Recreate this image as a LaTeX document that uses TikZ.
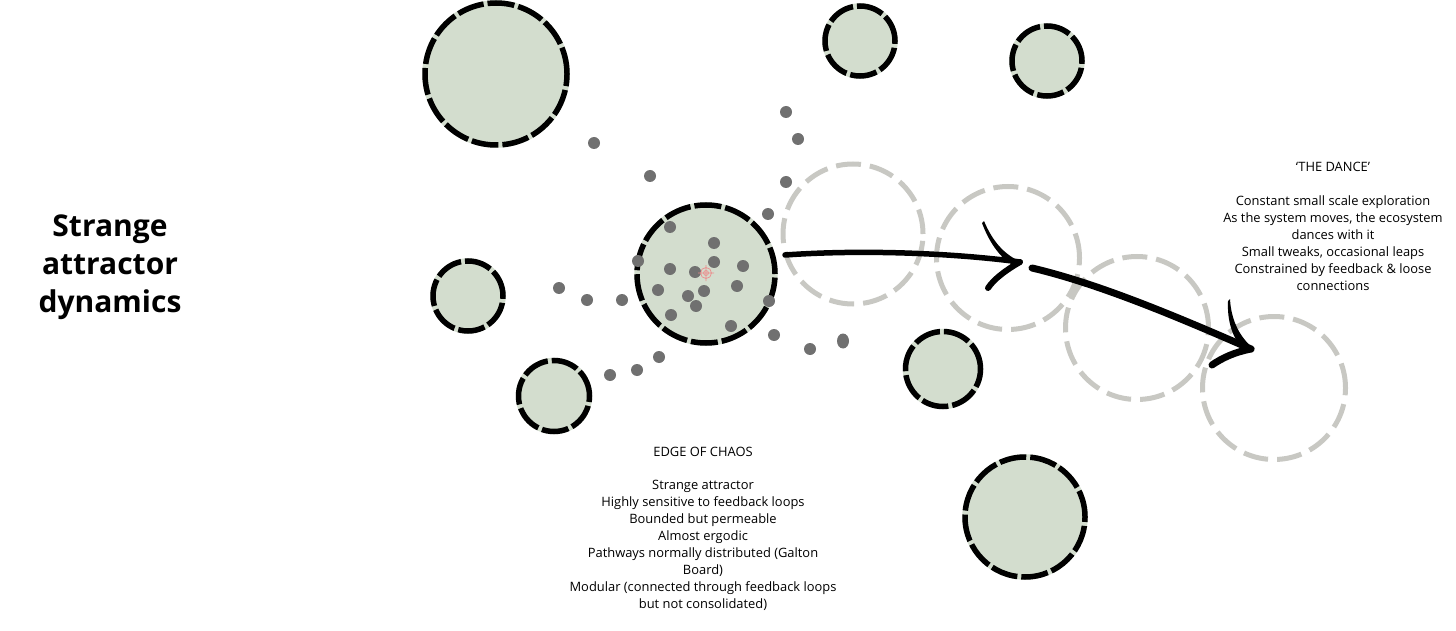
\documentclass[tikz,border=0pt]{standalone}
\usepackage{fontspec}
\setmainfont{Open Sans}
\definecolor{sage}{RGB}{211,221,206}
\definecolor{dotgray}{RGB}{112,112,112}
\definecolor{ghostgray}{RGB}{200,200,195}
\definecolor{markred}{RGB}{236,140,140}
\begin{document}
\begin{tikzpicture}[x=1pt,y=-1pt,
  pod/.style={circle,draw=black,fill=sage,line width=5.5pt,dash pattern=on 27pt off 4pt,inner sep=0pt,outer sep=0pt,
    preaction={draw=sage,solid,line width=5.5pt}},
  ghost/.style={circle,draw=ghostgray,line width=5pt,dash pattern=on 25pt off 9pt,inner sep=0pt,outer sep=0pt},
  txt/.style={font=\fontsize{12.9}{16.9}\selectfont,align=center,inner sep=0pt},
  brush/.style={line width=6pt,line cap=round,line join=round,draw=black},
  barb/.style={fill=black}]
\useasboundingbox (0,0) rectangle (1456,631);
% ghost (future) positions
\node[ghost,minimum size=140] (g1) at (853,234) {};
\node[ghost,minimum size=143] (g2) at (1008,258) {};
\node[ghost,minimum size=143] (g3) at (1137,328) {};
\node[ghost,minimum size=143] (g4) at (1274,388) {};
% ecosystem pods
\node[pod,minimum size=142] (tl) at (496,74) {};
\node[pod,minimum size=70] (tm) at (860,41) {};
\node[pod,minimum size=70] (tr) at (1047,61) {};
\node[pod,minimum size=70] (lf) at (468,296) {};
\node[pod,minimum size=71] (bl) at (554,396) {};
\node[pod,minimum size=138] (core) at (706,274) {};
\node[pod,minimum size=75] (mr) at (943,369) {};
\node[pod,minimum size=120] (br) at (1025,517) {};
% dots
\foreach \p in {(594,143),(650,176),(786,112),(798,139),(786,182),(768,214),
  (670,227),(714,243),(638,261),(714,262),(670,269),(695,272),(743,266),
  (658,290),(704,291),(737,286),(688,296),(696,306),(671,315),(769,301),(731,326),
  (559,288),(587,300),(622,300),(774,335),(810,349),(659,357),(637,370),(610,375)}
  \fill[dotgray] \p circle (6);
\fill[dotgray] (843,341) ellipse (6 and 7.5);
% centre marker
\draw[markred,line width=0.7pt] (706,273) circle (5.5) (706,273) circle (2.5)
  (698,273) -- (714,273) (706,265) -- (706,281);
% arrows
\coordinate (a1s) at (785,255);
\coordinate (a1t) at (1020,262);
\coordinate (a2s) at (1032,268);
\coordinate (a2t) at (1251,349);
\draw[brush,line width=5.5pt] (a1s) .. controls (870,249) and (960,254) .. (a1t);
\fill[barb] (984,221) .. controls (992,240) and (1003,254) .. (1021,262) -- (1013,265) .. controls (1000,258) and (989,242) .. (982,223) -- cycle;
\draw[brush] (a1t) .. controls (1006,270) and (994,279) .. (988,288);
\draw[brush,line width=7pt] (a2s) .. controls (1100,284) and (1180,318) .. (a2t);
\fill[barb] (1230,299) .. controls (1231,318) and (1238,336) .. (1254,349) -- (1245,351) .. controls (1233,340) and (1227,322) .. (1228,301) -- cycle;
\draw[brush,line width=7pt] (a2t) .. controls (1235,352) and (1222,358) .. (1212,365);
% texts
\node[font=\bfseries\fontsize{30}{38}\selectfont,align=center,inner sep=0pt] (title) at (110,267) {Strange\\attractor\\dynamics};
\node[txt] (dance) at (1333,226.5) {‘THE DANCE’\\\mbox{}\\Constant small scale exploration\\As the system moves, the ecosystem\\dances with it\\Small tweaks, occasional leaps\\Constrained by feedback \& loose\\connections};
\node[txt] (edge) at (703,528.5) {EDGE OF CHAOS\\\mbox{}\\Strange attractor\\Highly sensitive to feedback loops\\Bounded but permeable\\Almost ergodic\\Pathways normally distributed (Galton\\Board)\\Modular (connected through feedback loops\\but not consolidated)};
\end{tikzpicture}
\end{document}
